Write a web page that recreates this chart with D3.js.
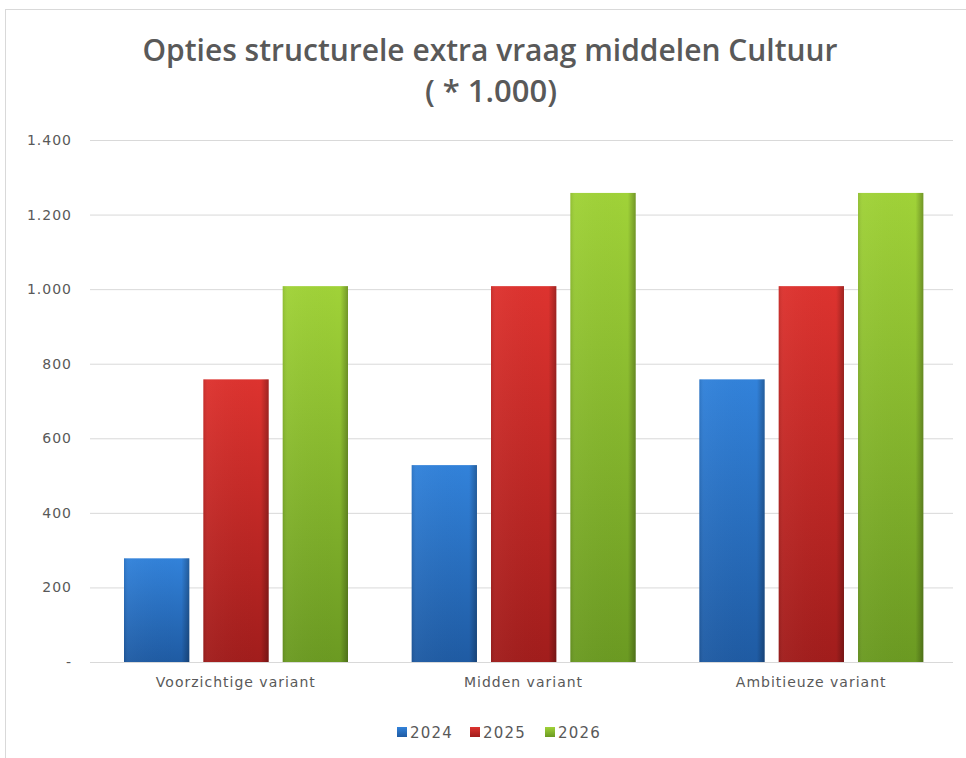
<!DOCTYPE html>
<meta charset="utf-8">
<head>
    <script src="https://d3js.org/d3.v7.min.js"></script>
    <style>
        body { margin: 0; background: #fff; }
        .tick text { font-family: "DejaVu Sans", Verdana, sans-serif; font-size: 14px; fill: #595959; letter-spacing: 1px; }
        .grid line { stroke: #d9d9d9; }
    </style>
</head>
<body>
<div id="graph"></div>
<script>
    // data
    var categories = ["Voorzichtige variant", "Midden variant", "Ambitieuze variant"];
    var years = ["2024", "2025", "2026"];
    var values2024 = [270, 520, 750];
    var values2025 = [750, 1000, 1000];
    var values2026 = [1000, 1250, 1250];
    var yTicks = [0, 200, 400, 600, 800, 1000, 1200, 1400];

    var series = [values2024, values2025, values2026];
    var colors = {
        "2024": ["#3282da", "#1f5ba3"],
        "2025": ["#dd332f", "#a11d1c"],
        "2026": ["#a0d238", "#6b9a22"]
    };

    var W = 966, H = 758;
    var svg = d3.select("#graph").append("svg")
        .attr("width", W).attr("height", H);

    // frame
    svg.append("rect")
        .attr("x", 5.5).attr("y", 9.5)
        .attr("width", 1000).attr("height", 800)
        .attr("fill", "#fff")
        .attr("stroke", "#d9d9d9");

    // gradients
    var defs = svg.append("defs");
    years.forEach(function(yr) {
        var g = defs.append("linearGradient").attr("id", "g" + yr)
            .attr("x1", 0).attr("y1", 0).attr("x2", 0).attr("y2", 1);
        g.append("stop").attr("offset", "0%").attr("stop-color", colors[yr][0]);
        g.append("stop").attr("offset", "100%").attr("stop-color", colors[yr][1]);
    });
    var sh = defs.append("linearGradient").attr("id", "shade")
        .attr("x1", 0).attr("y1", 0).attr("x2", 1).attr("y2", 0);
    sh.append("stop").attr("offset", "0%").attr("stop-color", "#000").attr("stop-opacity", 0.1);
    sh.append("stop").attr("offset", "8%").attr("stop-color", "#fff").attr("stop-opacity", 0.03);
    sh.append("stop").attr("offset", "88%").attr("stop-color", "#000").attr("stop-opacity", 0.0);
    sh.append("stop").attr("offset", "100%").attr("stop-color", "#000").attr("stop-opacity", 0.28);

    // title
    svg.append("text")
        .attr("x", 490).attr("y", 61)
        .attr("text-anchor", "middle")
        .attr("font-family", "'Open Sans', sans-serif")
        .attr("font-weight", 600)
        .attr("font-size", "30px")
        .attr("fill", "#595959")
        .attr("textLength", 695).attr("lengthAdjust", "spacingAndGlyphs")
        .text("Opties structurele extra vraag middelen Cultuur");
    svg.append("text")
        .attr("x", 491).attr("y", 102)
        .attr("text-anchor", "middle")
        .attr("font-family", "'Open Sans', sans-serif")
        .attr("font-weight", 600)
        .attr("font-size", "30px")
        .attr("fill", "#595959")
        .attr("textLength", 132).attr("lengthAdjust", "spacingAndGlyphs")
        .text("( * 1.000)");

    // scales
    var x0 = d3.scaleBand().domain(categories).range([92, 955]);
    var x1 = d3.scaleBand().domain(years).range([32, 256]).paddingInner(0.177).paddingOuter(0);
    var y = d3.scaleLinear().domain([0, 1400]).range([662, 140]);

    // grid
    svg.append("g").attr("class", "grid")
        .attr("transform", "translate(90,0)")
        .call(d3.axisRight(y).tickValues(yTicks).tickSize(953 - 90).tickFormat(""))
        .call(function(g) { g.select(".domain").remove(); });

    // y axis labels
    var fmt = function(d) { return d === 0 ? "-" : d3.format(",")(d).replace(/,/g, "."); };
    svg.append("g")
        .attr("transform", "translate(82,0)")
        .call(d3.axisLeft(y).tickValues(yTicks).tickSize(0).tickPadding(10).tickFormat(fmt))
        .call(function(g) { g.select(".domain").remove(); });

    // bars
    var groups = svg.append("g").selectAll("g")
        .data(categories).enter().append("g")
        .attr("transform", function(d) { return "translate(" + x0(d) + ",0)"; });

    years.forEach(function(yr, si) {
        groups.append("rect")
            .attr("x", x1(yr))
            .attr("y", function(d, i) { return y(series[si][i]) - 3; })
            .attr("width", x1.bandwidth())
            .attr("height", function(d, i) { return y(0) - y(series[si][i]) + 3; })
            .attr("fill", "url(#g" + yr + ")");
        groups.append("rect")
            .attr("x", x1(yr))
            .attr("y", function(d, i) { return y(series[si][i]) - 3; })
            .attr("width", x1.bandwidth())
            .attr("height", function(d, i) { return y(0) - y(series[si][i]) + 3; })
            .attr("fill", "url(#shade)");
    });

    // x axis labels
    svg.append("g")
        .attr("transform", "translate(0,662)")
        .call(d3.axisBottom(x0).tickSize(0).tickPadding(15))
        .call(function(g) { g.select(".domain").remove(); });

    // legend
    var legX = [397, 470, 545];
    var leg = svg.append("g");
    years.forEach(function(yr, i) {
        leg.append("rect").attr("x", legX[i]).attr("y", 727).attr("width", 10).attr("height", 10)
            .attr("fill", "url(#g" + yr + ")");
        leg.append("text").attr("x", legX[i] + 13).attr("y", 738)
            .attr("font-family", "'DejaVu Sans', Verdana, sans-serif")
            .attr("font-size", "15px").attr("fill", "#595959")
            .attr("letter-spacing", "1.2px")
            .text(yr);
    });
</script>
</body>
